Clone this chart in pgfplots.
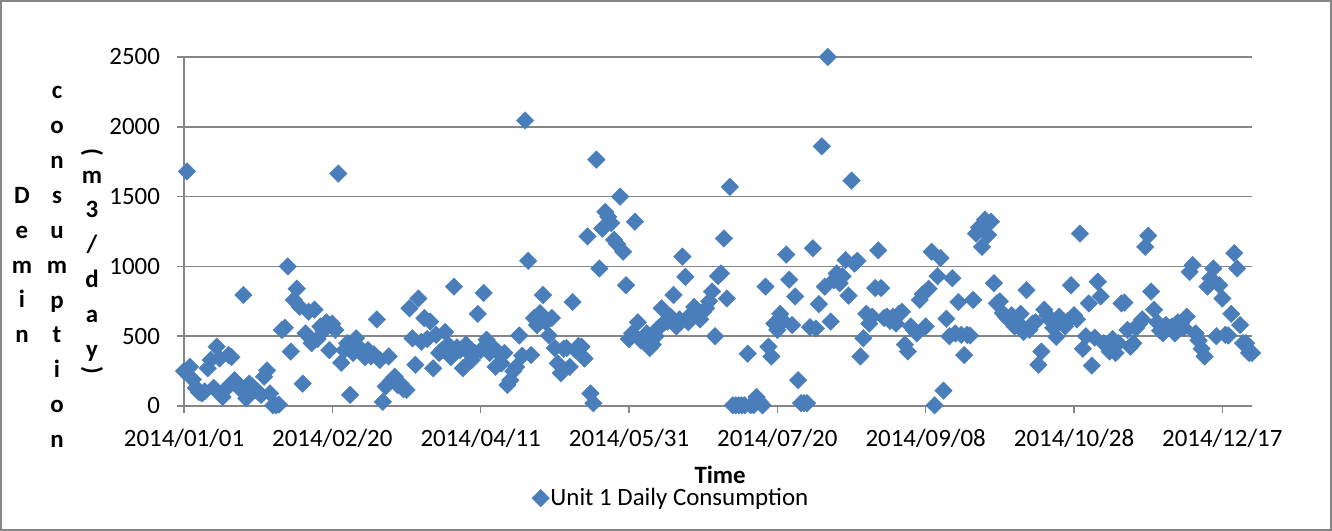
\documentclass[border=0pt]{standalone}
\usepackage{fontspec}
\setmainfont{Carlito}
\usepackage{graphicx}
\usepackage{pgfplots}
\pgfplotsset{compat=1.18}
\definecolor{serblue}{RGB}{74,126,187}
\definecolor{axgray}{RGB}{134,134,134}
\pgfplotstableread{
d v
0 250
1 1680
2 280
3 190
4 130
5 100
6 90
7 105
8 270
9 330
10 130
11 425
12 340
13 65
14 120
15 365
16 350
17 185
18 160
19 120
20 795
21 55
22 160
23 140
24 115
25 100
26 80
27 210
28 255
29 90
30 5
31 5
32 10
33 545
34 560
35 1000
36 390
37 760
38 840
39 710
40 160
41 520
42 675
43 450
44 690
45 480
46 570
47 540
48 600
49 400
50 590
51 545
52 1665
53 310
54 400
55 450
56 80
57 380
58 485
59 400
60 400
61 350
62 400
63 355
64 370
65 620
66 330
67 30
68 140
69 355
70 185
71 210
72 150
73 160
74 120
75 115
76 700
77 485
78 295
79 770
80 460
81 630
82 480
83 605
84 270
85 510
86 380
87 400
88 530
89 440
90 350
91 855
92 420
93 400
94 270
95 440
96 380
97 330
98 380
99 660
100 400
101 810
102 475
103 380
104 425
105 280
106 380
107 305
108 380
109 150
110 185
111 250
112 280
113 505
114 360
115 2045
116 1040
117 365
118 630
119 580
120 665
121 795
122 600
123 505
124 630
125 415
126 305
127 235
128 410
129 415
130 280
131 745
132 400
133 430
134 425
135 340
136 1215
137 90
138 20
139 1765
140 985
141 1270
142 1390
143 1355
144 1310
145 1190
146 1160
147 1500
148 1105
149 865
150 480
151 520
152 1320
153 600
154 470
155 460
156 520
157 415
158 440
159 500
160 560
161 700
162 600
163 605
164 640
165 795
166 570
167 620
168 1070
169 925
170 600
171 660
172 710
173 650
174 620
175 675
176 700
177 750
178 820
179 500
180 930
181 950
182 1200
183 770
184 1570
185 5
186 5
187 5
188 5
189 5
190 375
191 5
192 5
193 65
194 30
195 5
196 855
197 425
198 355
199 590
200 545
201 660
202 610
203 1085
204 905
205 580
206 785
207 185
208 20
209 20
210 20
211 565
212 1130
213 555
214 730
215 1860
216 855
217 2500
218 605
219 900
220 950
221 880
222 930
223 1045
224 790
225 1615
226 1020
227 1040
228 355
229 485
230 660
231 590
232 640
233 845
234 1115
235 845
236 630
237 640
238 610
239 640
240 590
241 660
242 675
243 440
244 390
245 570
246 545
247 520
248 760
249 800
250 570
251 840
252 1105
253 5
254 930
255 1060
256 110
257 625
258 500
259 915
260 520
261 745
262 510
263 365
264 510
265 505
266 760
267 1235
268 1280
269 1140
270 1335
271 1225
272 1320
273 880
274 735
275 750
276 665
277 640
278 620
279 650
280 570
281 600
282 660
283 530
284 830
285 545
286 590
287 600
288 295
289 390
290 690
291 650
292 615
293 560
294 495
295 640
296 600
297 570
298 610
299 865
300 650
301 620
302 1235
303 410
304 500
305 735
306 290
307 490
308 890
309 785
310 450
311 430
312 390
313 480
314 380
315 450
316 735
317 740
318 545
319 425
320 450
321 560
322 590
323 620
324 1140
325 1220
326 820
327 690
328 600
329 540
330 520
331 580
332 560
333 570
334 520
335 600
336 590
337 560
338 640
339 960
340 1010
341 520
342 470
343 410
344 355
345 855
346 915
347 985
348 500
349 865
350 770
351 510
352 505
353 660
354 1095
355 985
356 580
357 450
358 450
359 380
360 380
}\unitone

\begin{document}
\begin{tikzpicture}
\begin{axis}[
  at={(0,0)}, anchor=south west,
  scale only axis, width=534bp, height=174.5bp,
  xmin=0, xmax=360, ymin=0, ymax=2500,
  axis lines*=left,
  axis line style={axgray, line width=0.8bp},
  xtick={0,50,...,350},
  xticklabels={2014/01/01,2014/02/20,2014/04/11,2014/05/31,2014/07/20,2014/09/08,2014/10/28,2014/12/17},
  ytick={0,500,...,2500},
  tick align=outside, major tick length=3.5bp,
  tick style={axgray, line width=0.8bp},
  ymajorgrids, grid style={axgray, line width=0.8bp},
  ticklabel style={font=\fontsize{12.5}{14}\selectfont, black},
  /pgf/number format/assume math mode=true,
  /pgf/number format/1000 sep={},
  yticklabel style={xshift=-5bp},
  xticklabel style={yshift=-4.5bp},
  clip=false,
  xlabel={Time},
  xlabel style={font=\fontsize{12.5}{14}\selectfont\bfseries, inner sep=0pt,
    at={(axis description cs:0.502,-0.196)}, anchor=center},
  legend style={at={(axis description cs:0.3254,-0.264)}, anchor=west, draw=none, fill=none,
    font=\fontsize{12.5}{14}\selectfont, inner sep=0pt, nodes={inner sep=0.5bp}},
  legend image code/.code={\draw[#1] plot coordinates {(0bp,0bp)};},
]
\addplot[only marks, mark=square*, mark size=3.1bp,
  mark options={rotate=45, fill=serblue, draw=serblue, line width=0.2bp}]
  table[x=d, y=v] {\unitone};
\addlegendentry{Unit 1 Daily Consumption}
\end{axis}
\begin{scope}[font=\fontsize{12.5}{17.5}\selectfont\bfseries]
\node[align=center] at (-81bp,70.5bp) {D\\e\\m\\i\\n};
\node[align=center] at (-63.5bp,69.5bp) {c\\o\\n\\s\\u\\m\\p\\t\\i\\o\\n};
\node[rotate=-90, inner sep=0pt] at (-46bp,127bp) {(};
\node[align=center] at (-46bp,70bp) {m\\3\\/\\d\\a\\y};
\node[rotate=-90, inner sep=0pt] at (-46bp,18bp) {)};
\end{scope}
\draw[axgray, line width=0.75bp] (-91.5bp,-62bp) rectangle (573.5bp,202.5bp);
\pgfresetboundingbox
\useasboundingbox (-92bp,-62.5bp) rectangle (574bp,203bp);
\end{tikzpicture}
\end{document}
